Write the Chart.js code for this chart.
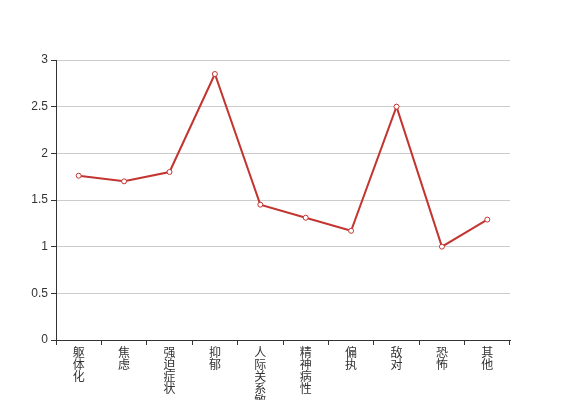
<!DOCTYPE html>
<html>
<head>
<meta charset="utf-8">
<script src="https://cdn.jsdelivr.net/npm/chart.js@4/dist/chart.umd.min.js"></script>
<style>
html,body{margin:0;padding:0;background:#fff;}
#wrap{width:567px;height:400px;position:relative;}
</style>
</head>
<body>
<div id="wrap"><canvas id="c" width="567" height="400"></canvas></div>
<script>
const categories = ['躯体化','焦虑','强迫症状','抑郁','人际关系敏感','精神病性','偏执','敌对','恐怖','其他'];
const values = [1.76, 1.70, 1.80, 2.85, 1.45, 1.31, 1.17, 2.50, 1.00, 1.29];
const yTicks = [0, 0.5, 1, 1.5, 2, 2.5, 3];

const FONT = '"Liberation Sans", "Noto Sans CJK SC", sans-serif';

new Chart(document.getElementById('c'), {
  type: 'line',
  data: {
    labels: categories.map(s => s.split('')),
    datasets: [{
      data: values,
      borderColor: '#c23531',
      borderWidth: 2,
      backgroundColor: '#fff',
      pointBackgroundColor: '#fff',
      pointBorderColor: '#c23531',
      pointBorderWidth: 1,
      pointRadius: 2.5,
      tension: 0,
      fill: false
    }]
  },
  options: {
    responsive: false,
    animation: false,
    layout: { padding: { top: 60, right: 57, left: 0, bottom: 0 } },
    plugins: { legend: { display: false }, tooltip: { enabled: false } },
    scales: {
      x: {
        offset: true,
        grid: { display: true, drawOnChartArea: false, drawTicks: true, offset: true, tickLength: 5, tickColor: '#333', lineWidth: 1 },
        border: { display: true, color: '#333', width: 1 },
        ticks: { color: '#333', font: { family: FONT, size: 12, lineHeight: 1.0 }, maxRotation: 0, minRotation: 0, autoSkip: false, padding: 3 },
        afterFit: s => { s.height = 60; }
      },
      y: {
        min: 0, max: 3,
        afterBuildTicks: s => { s.ticks = yTicks.map(v => ({ value: v })); },
        grid: { color: '#ccc', tickColor: '#333', tickLength: 5, lineWidth: 1 },
        border: { display: true, color: '#333', width: 1 },
        ticks: { color: '#333', font: { family: FONT, size: 12 }, padding: 3, callback: v => String(v) },
        afterFit: s => { s.width = 56; }
      }
    }
  }
});
</script>
</body>
</html>
